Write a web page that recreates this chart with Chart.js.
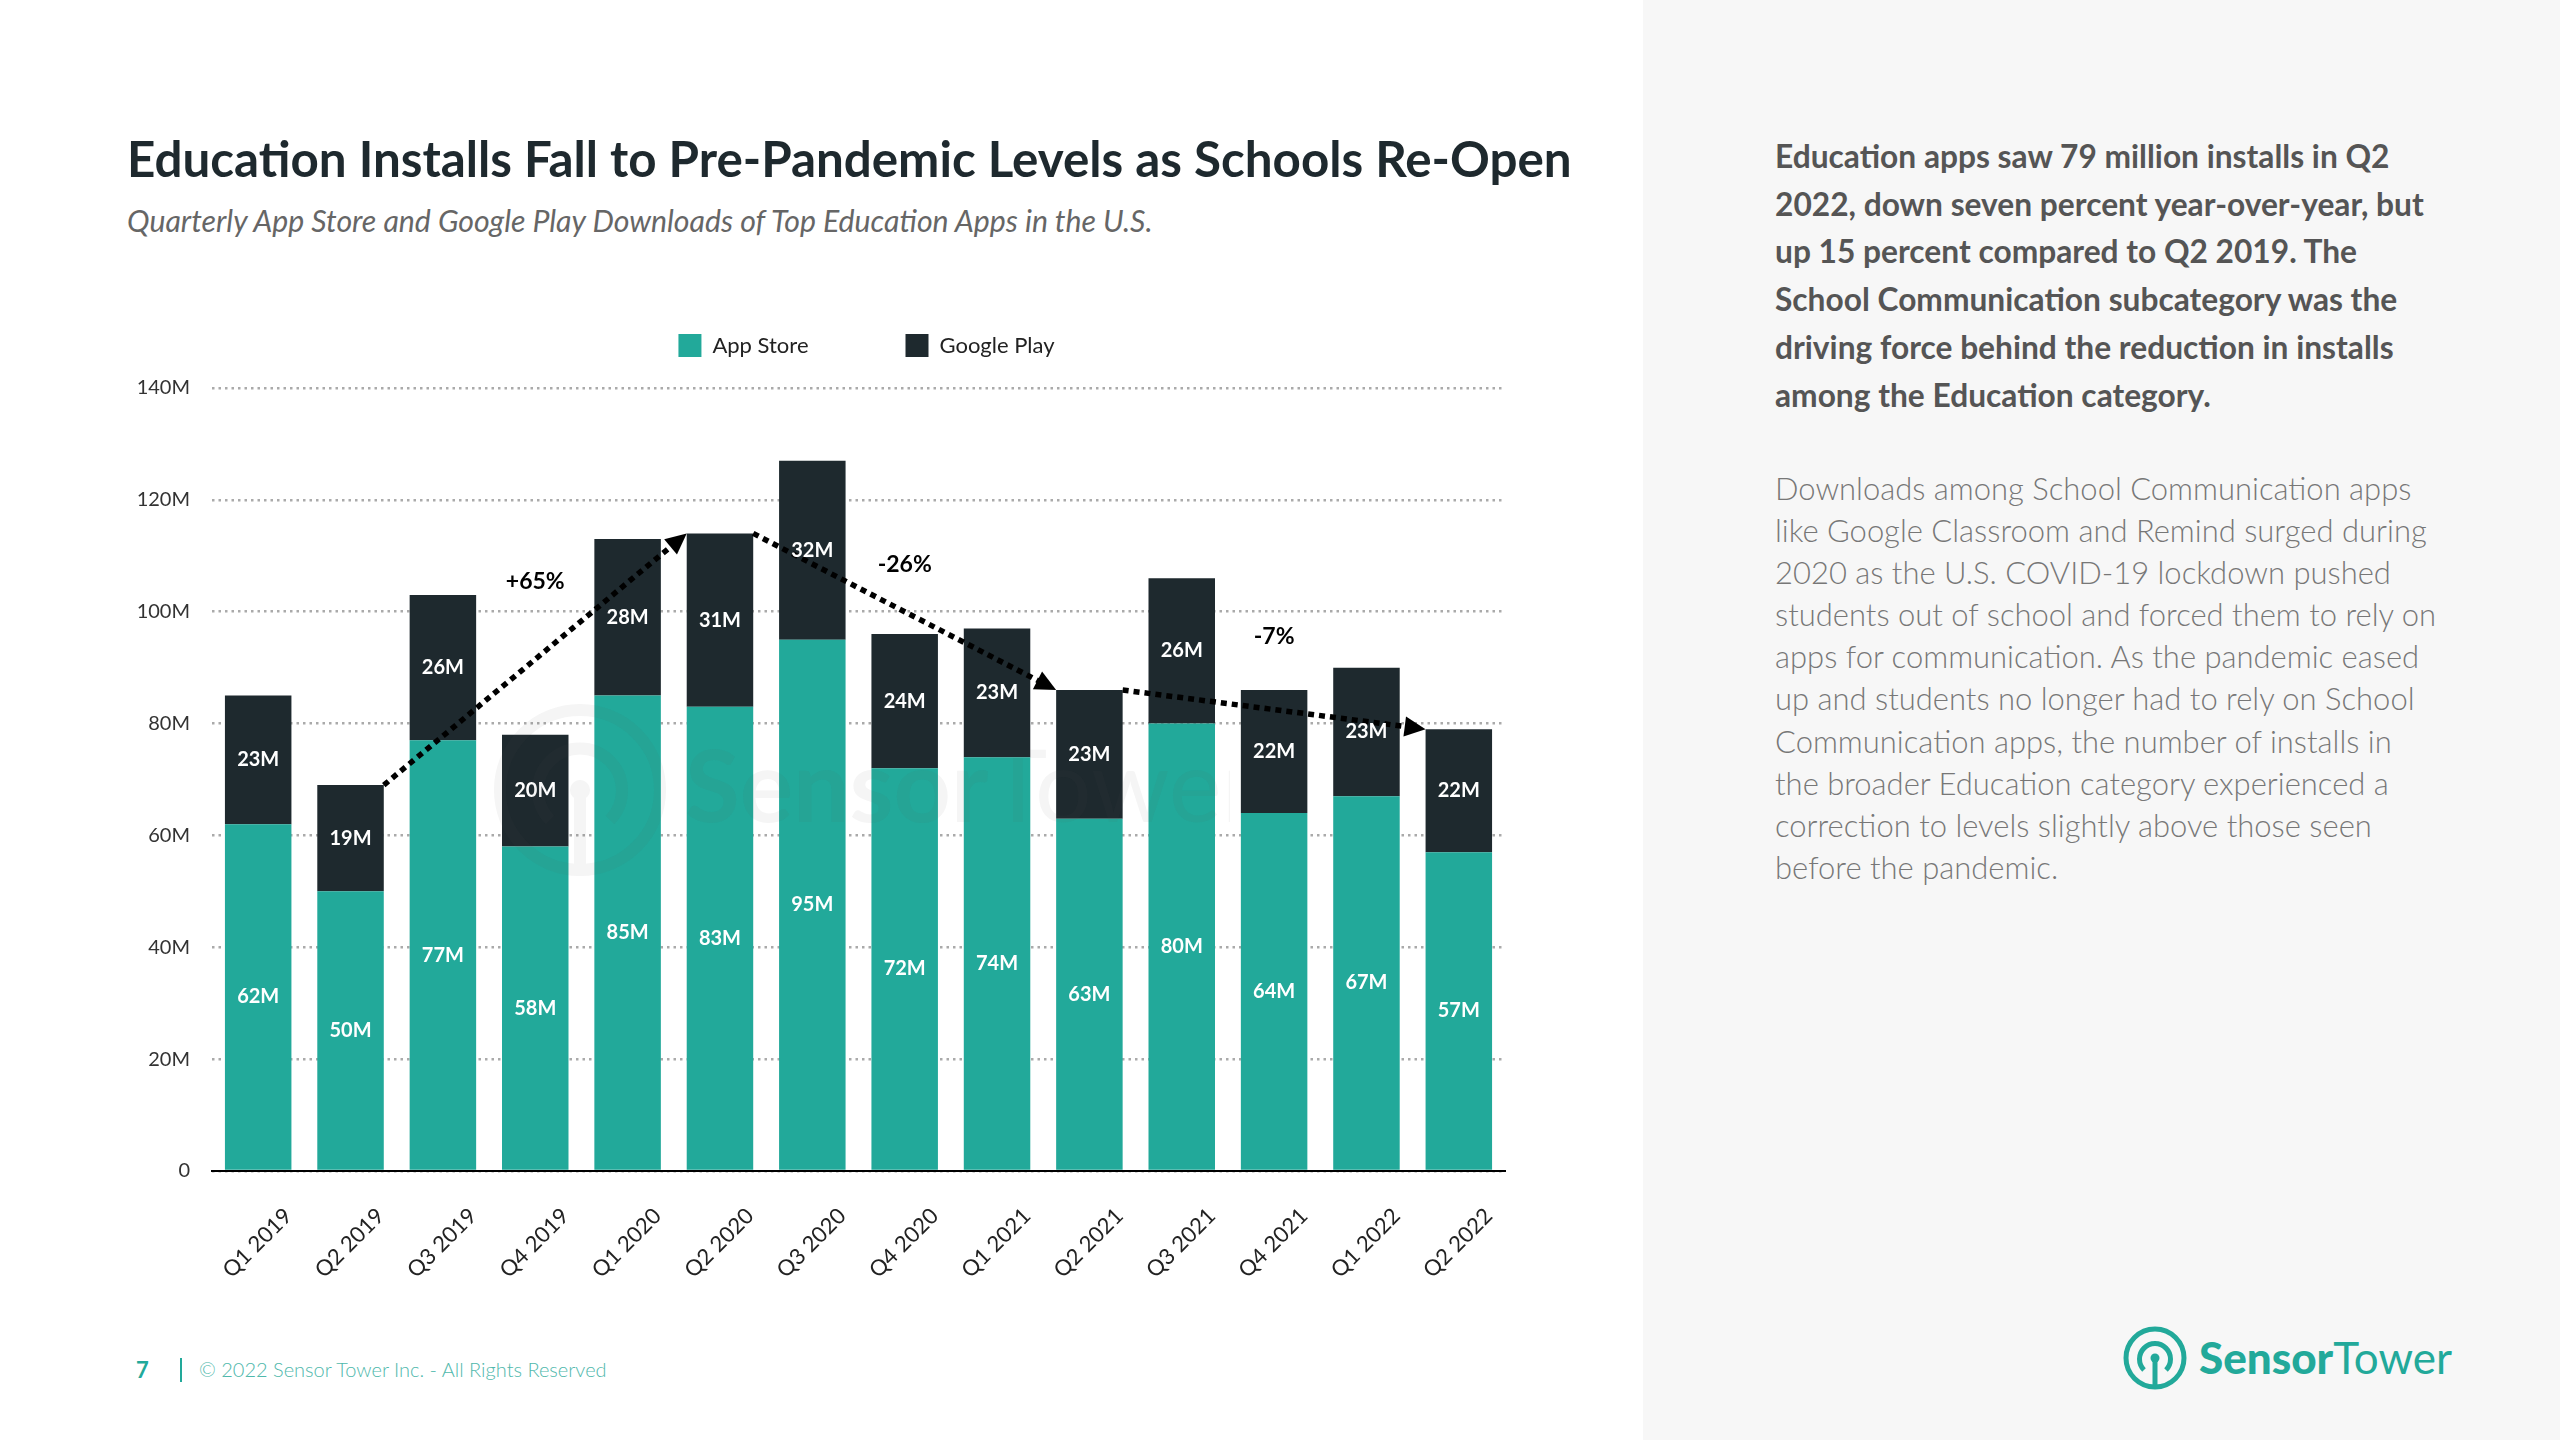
<!DOCTYPE html>
<html>
<head>
<meta charset="utf-8">
<script src="https://cdn.jsdelivr.net/npm/chart.js@4.4.1/dist/chart.umd.min.js"></script>
<style>
  html, body { margin: 0; padding: 0; }
  body { width: 2560px; height: 1440px; position: relative; background: #fff; overflow: hidden;
         font-family: Lato, "Noto Sans", sans-serif; }
  .abs { position: absolute; white-space: nowrap; }
  #side { position: absolute; left: 1643px; top: 0; width: 917px; height: 1440px; background: #f7f7f7; }
  #title { left: 127px; top: 134px; font-weight: 700; font-size: 49px; color: #1e292e; line-height: 1; }
  #subtitle { left: 127px; top: 205px; font-style: italic; font-size: 29px; color: #666; line-height: 1; }
  #lead { left: 1775px; top: 133px; font-weight: 700; font-size: 30px; color: #555; line-height: 47.7px; }
  #body { left: 1775px; top: 467px; font-weight: 300; font-size: 30px; color: #777; line-height: 42.1px; }
  #pageno { left: 136px; top: 1356px; font-size: 22px; color: #22a99a; font-weight: 700; }
  #bar { left: 180px; top: 1358px; width: 2px; height: 24px; background: #22a99a; }
  #copy { left: 199px; top: 1357px; font-size: 20px; color: #4fb8ac; font-weight: 300; }
  #wrap { position: absolute; left: 100px; top: 237px; width: 1420px; height: 1063px; }
  #watermark { left: 490px; top: 700px; opacity: 0.06; color: #555; pointer-events: none; }
  #logo { left: 2120px; top: 1322px; }
</style>
</head>
<body>
<div id="side"></div>

<div id="title" class="abs" data-fit="1445">Education Installs Fall to Pre-Pandemic Levels as Schools Re-Open</div>
<div id="subtitle" class="abs" data-fit="1026">Quarterly App Store and Google Play Downloads of Top Education Apps in the U.S.</div>

<div id="lead" class="abs" data-fit="649">Education apps saw 79 million installs in Q2<br>2022, down seven percent year-over-year, but<br>up 15 percent compared to Q2 2019. The<br>School Communication subcategory was the<br>driving force behind the reduction in installs<br>among the Education category.</div>
<div id="body" class="abs" data-fit="661">Downloads among School Communication apps<br>like Google Classroom and Remind surged during<br>2020 as the U.S. COVID-19 lockdown pushed<br>students out of school and forced them to rely on<br>apps for communication. As the pandemic eased<br>up and students no longer had to rely on School<br>Communication apps, the number of installs in<br>the broader Education category experienced a<br>correction to levels slightly above those seen<br>before the pandemic.</div>

<div id="wrap"><canvas id="chart"></canvas></div>

<div id="watermark" class="abs">
  <svg width="740" height="180" viewBox="0 0 740 180">
    <circle cx="90" cy="90" r="80" fill="none" stroke="#555" stroke-width="12"/>
    <path d="M60 120 A42 42 0 1 1 120 120" fill="none" stroke="#555" stroke-width="12"/>
    <line x1="90" y1="95" x2="90" y2="170" stroke="#555" stroke-width="12"/>
    <circle cx="90" cy="90" r="10" fill="#555"/>
    <text x="195" y="122" font-family="Lato" font-size="100" fill="#555"><tspan font-weight="700">Sensor</tspan>Tower</text>
  </svg>
</div>

<div id="pageno" class="abs">7</div>
<div id="bar" class="abs"></div>
<div id="copy" class="abs">© 2022 Sensor Tower Inc. - All Rights Reserved</div>

<div id="logo" class="abs">
  <svg width="340" height="72" viewBox="0 0 340 72">
    <circle cx="35" cy="36" r="29" fill="none" stroke="#22a99a" stroke-width="5"/>
    <path d="M24 48 A15.5 15.5 0 1 1 46 48" fill="none" stroke="#22a99a" stroke-width="5"/>
    <line x1="35" y1="38" x2="35" y2="64" stroke="#22a99a" stroke-width="5"/>
    <circle cx="35" cy="36" r="4.5" fill="#22a99a"/>
    <text x="79" y="52" font-family="Lato" font-size="44" fill="#22a99a"><tspan font-weight="900">Sensor</tspan>Tower</text>
  </svg>
</div>

<script>
// quarters on the x axis
const quarters = ['Q1 2019', 'Q2 2019', 'Q3 2019', 'Q4 2019', 'Q1 2020', 'Q2 2020', 'Q3 2020',
                  'Q4 2020', 'Q1 2021', 'Q2 2021', 'Q3 2021', 'Q4 2021', 'Q1 2022', 'Q2 2022'];
// downloads in millions
const appStore   = [62, 50, 77, 58, 85, 83, 95, 72, 74, 63, 80, 64, 67, 57];
const googlePlay = [23, 19, 26, 20, 28, 31, 32, 24, 23, 23, 26, 22, 23, 22];
// y axis ticks (millions)
const yTicks = [0, 20, 40, 60, 80, 100, 120, 140];
// change arrows: from quarter index, to quarter index, label, label height (millions)
const changes = [
  { from: 1, to: 5,  label: '+65%', at: 105.3 },
  { from: 5, to: 9,  label: '-26%', at: 108.5 },
  { from: 9, to: 13, label: '-7%',  at: 95.6 }
];

const TEAL = '#22a99a';
const DARK = '#1e292e';

// shrink/grow text blocks so their widest line matches the reference
document.querySelectorAll('[data-fit]').forEach(el => {
  const target = +el.dataset.fit;
  el.style.display = 'inline-block';
  const fs = parseFloat(getComputedStyle(el).fontSize);
  const w = el.getBoundingClientRect().width;
  el.style.fontSize = (fs * target / w).toFixed(2) + 'px';
});

Chart.defaults.font.family = 'Lato, "Noto Sans", sans-serif';
Chart.defaults.color = '#222';

// white value labels in the middle of every segment
const segmentLabels = {
  id: 'segmentLabels',
  afterDatasetsDraw(chart) {
    const ctx = chart.ctx;
    ctx.save();
    ctx.fillStyle = '#fff';
    ctx.font = 'bold 20px Lato, "Noto Sans", sans-serif';
    ctx.textAlign = 'center';
    ctx.textBaseline = 'middle';
    chart.data.datasets.forEach((ds, d) => {
      chart.getDatasetMeta(d).data.forEach((bar, i) => {
        ctx.fillText(ds.data[i] + 'M', bar.x, (bar.y + bar.base) / 2);
      });
    });
    ctx.restore();
  }
};

// dotted change arrows between stack tops
const changeArrows = {
  id: 'changeArrows',
  afterDatasetsDraw(chart) {
    const ctx = chart.ctx;
    const top = chart.getDatasetMeta(1).data;
    const yScale = chart.scales.y;
    ctx.save();
    changes.forEach(c => {
      const a = top[c.from], b = top[c.to];
      const x1 = a.x + a.width / 2, y1 = a.y;
      const x2 = b.x - b.width / 2, y2 = b.y;
      const ang = Math.atan2(y2 - y1, x2 - x1);
      const head = 21;
      const ex = x2 - Math.cos(ang) * head * 0.8, ey = y2 - Math.sin(ang) * head * 0.8;
      ctx.strokeStyle = '#000';
      ctx.lineWidth = 5.5;
      ctx.setLineDash([6, 5]);
      ctx.beginPath();
      ctx.moveTo(x1, y1);
      ctx.lineTo(ex, ey);
      ctx.stroke();
      ctx.setLineDash([]);
      ctx.fillStyle = '#000';
      ctx.beginPath();
      ctx.moveTo(x2, y2);
      ctx.lineTo(x2 - Math.cos(ang) * head + Math.sin(ang) * 10, y2 - Math.sin(ang) * head - Math.cos(ang) * 10);
      ctx.lineTo(x2 - Math.cos(ang) * head - Math.sin(ang) * 10, y2 - Math.sin(ang) * head + Math.cos(ang) * 10);
      ctx.closePath();
      ctx.fill();
      ctx.font = 'bold 23px Lato, "Noto Sans", sans-serif';
      ctx.textAlign = 'center';
      ctx.textBaseline = 'middle';
      ctx.fillText(c.label, (x1 + x2) / 2, yScale.getPixelForValue(c.at));
    });
    ctx.restore();
  }
};

// extra room under the legend, and nudge it right over the plot
const legendGap = {
  id: 'legendGap',
  afterInit(chart) {
    const lg = chart.legend;
    if (!lg) return;
    const fit = lg.fit;
    lg.fit = function () { fit.call(this); this.height += 21; };
  },
  afterLayout(chart) {
    if (!chart.legend) return;
    chart.legend.left += 64;
    chart.legend.right += 64;
  }
};

new Chart(document.getElementById('chart'), {
  type: 'bar',
  data: {
    labels: quarters,
    datasets: [
      { label: 'App Store', data: appStore, backgroundColor: TEAL },
      { label: 'Google Play', data: googlePlay, backgroundColor: DARK }
    ]
  },
  options: {
    responsive: true,
    maintainAspectRatio: false,
    animation: false,
    devicePixelRatio: 1,
    layout: { padding: { left: 0, right: 15, top: 0, bottom: 0 } },
    datasets: { bar: { barPercentage: 0.8, categoryPercentage: 0.9 } },
    plugins: {
      legend: {
        position: 'top',
        labels: { boxWidth: 23, boxHeight: 23, padding: 97, color: '#222',
                  font: { size: 22 } }
      },
      tooltip: { enabled: false }
    },
    scales: {
      x: {
        stacked: true,
        grid: { display: false },
        border: { display: true, color: '#000', width: 2 },
        ticks: { minRotation: 45, maxRotation: 45, padding: 24, labelOffset: 30,
                 color: '#222', font: { size: 22 } },
        afterFit: s => { s.height = 129; }
      },
      y: {
        stacked: true,
        min: 0,
        max: 140,
        afterBuildTicks: s => { s.ticks = yTicks.map(v => ({ value: v })); },
        grid: { color: '#aaa', lineWidth: 2.5, drawTicks: false },
        border: { display: false, dash: [2.5, 4] },
        ticks: { padding: 22, color: '#333', font: { size: 20 },
                 callback: v => v === 0 ? '0' : v + 'M' },
        afterFit: s => { s.width = 112; }
      }
    }
  },
  // arrows first so the white segment labels sit on top of them
  plugins: [changeArrows, segmentLabels, legendGap]
});
</script>
</body>
</html>
